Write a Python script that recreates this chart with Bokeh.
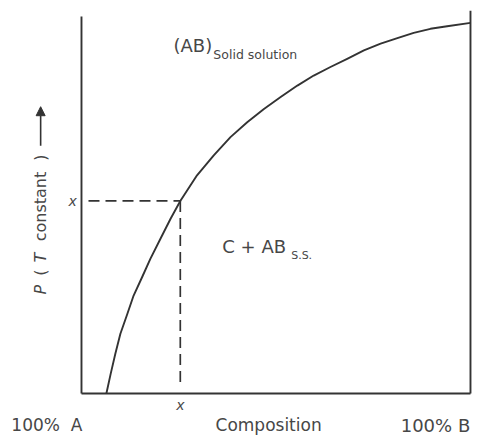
import math
from bokeh.plotting import figure
from bokeh.models import Range1d, Arrow, NormalHead
from bokeh.core.properties import value
from bokeh.embed import file_html
from bokeh.resources import INLINE

# ---- data (composition in % B, pressure in arbitrary units 0..100) ----
curve_comp = [6.4, 7.5, 8.7, 10.0, 11.8, 13.4, 15.6, 17.7, 20.3, 22.9, 25.4,
              29.7, 34.0, 38.3, 42.6, 46.9, 51.2, 55.5, 59.7, 64.0, 68.3,
              72.6, 76.9, 81.2, 85.4, 89.7, 94.0, 100.0]
curve_pres = [0.0, 5.3, 10.7, 16.1, 21.5, 26.4, 31.4, 36.3, 41.7, 47.1, 51.9,
              58.8, 64.2, 69.1, 73.1, 76.7, 79.9, 83.0, 85.7, 88.0, 90.2,
              92.5, 94.3, 95.8, 97.2, 98.3, 99.0, 99.9]

x_comp = 25.4      # composition x
x_pres = 51.9      # pressure x

left_axis_top = 101.6
right_axis_top = 103.2

bottom_labels = ["100%\u00a0\u00a0A", "Composition", "100% B"]
bottom_label_x = [-8.9, 48.1, 91.0]
bottom_label_y = -8.6

FONT = "DejaVu Sans"
LINE = "#333333"
TXT = "#474747"

p = figure(width=478, height=437, output_backend="svg", toolbar_location=None,
           x_range=Range1d(-20.82, 102.06), y_range=Range1d(-11.86, 105.93),
           x_axis_type=None, y_axis_type=None, min_border=0,
           outline_line_color=None, background_fill_color="white",
           border_fill_color="white")
p.grid.visible = False

# frame lines
p.line([0, 0], [0, left_axis_top], line_color=LINE, line_width=1.9)
p.line([100, 100], [0, right_axis_top], line_color=LINE, line_width=1.9)
p.line([0, 100], [0, 0], line_color=LINE, line_width=1.9)

# phase boundary curve
p.line(curve_comp, curve_pres, line_color=LINE, line_width=1.9, line_join="round")

# dashed guides
p.line([1.8, x_comp], [x_pres, x_pres], line_color=LINE, line_width=1.7, line_dash="11 6")
p.line([x_comp, x_comp], [x_pres, 2.2], line_color=LINE, line_width=1.7, line_dash="11 6")

def txt(x, y, s, size, align="left", style="normal", angle=0.0):
    p.text(x=[x], y=[y], text=[s], text_font=value(FONT), text_font_size=size,
           text_color=TXT, text_align=align, text_baseline="middle",
           text_font_style=style, angle=angle)

# region labels
txt(23.65, 93.8, "(AB)", "18px")
txt(33.9, 91.3, "Solid solution", "12.5px")
txt(36.2, 39.6, "C + AB", "18px")
txt(53.9, 37.3, "S.S.", "11px")

# x markers
txt(-2.3, x_pres, "x", "14px", align="center", style="italic")
txt(x_comp, -3.0, "x", "14px", align="center", style="italic")

# bottom labels
bottom_sizes = ["17px", "17px", "18px"]
for s, bx, fs in zip(bottom_labels, bottom_label_x, bottom_sizes):
    txt(bx, bottom_label_y, s, fs, align="center")

# y label (rotated), pieces placed along the axis
ylab_x = -10.5
ylab_parts = [("P", 28.0, "italic"), ("(", 32.6, "normal"), ("T", 36.6, "italic"),
              ("constant", 50.4, "normal"), (")", 63.6, "normal")]
for s, yy, st in ylab_parts:
    txt(ylab_x, yy, s, "16px", align="center", style=st, angle=math.pi / 2)

p.add_layout(Arrow(end=NormalHead(size=9, fill_color=LINE, line_color=LINE),
                   x_start=ylab_x, y_start=66.8, x_end=ylab_x, y_end=77.3,
                   line_color=LINE, line_width=1.6))

open("out.html", "w").write(file_html(p, INLINE))
